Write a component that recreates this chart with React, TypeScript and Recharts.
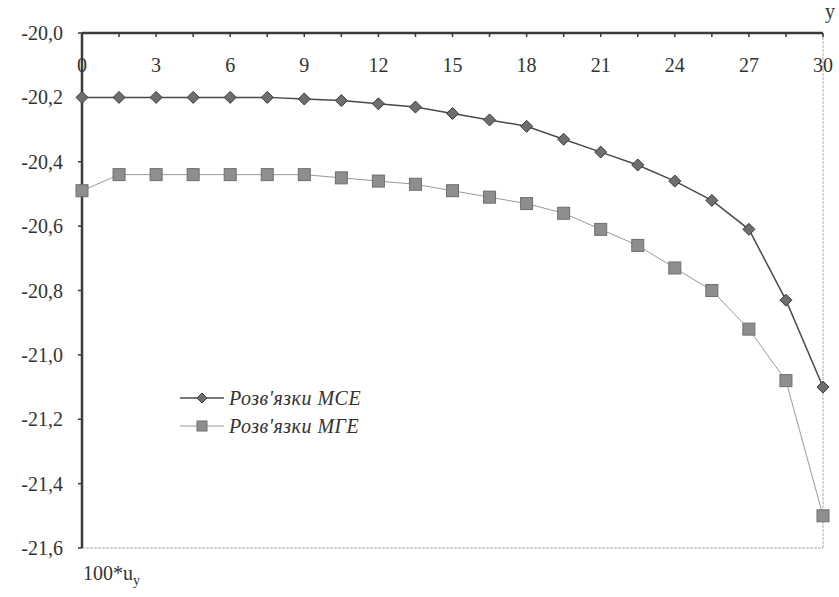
import { Legend, Line, LineChart, ReferenceLine, XAxis, YAxis } from "recharts";

const xValues = [0, 1.5, 3, 4.5, 6, 7.5, 9, 10.5, 12, 13.5, 15, 16.5, 18, 19.5, 21, 22.5, 24, 25.5, 27, 28.5, 30];
const mceValues = [
  -20.2, -20.2, -20.2, -20.2, -20.2, -20.2, -20.205, -20.21, -20.22, -20.23, -20.25, -20.27, -20.29, -20.33,
  -20.37, -20.41, -20.46, -20.52, -20.61, -20.83, -21.1,
];
const mgeValues = [
  -20.49, -20.44, -20.44, -20.44, -20.44, -20.44, -20.44, -20.45, -20.46, -20.47, -20.49, -20.51, -20.53, -20.56,
  -20.61, -20.66, -20.73, -20.8, -20.92, -21.08, -21.5,
];
const xTicks = [0, 1.5, 3, 4.5, 6, 7.5, 9, 10.5, 12, 13.5, 15, 16.5, 18, 19.5, 21, 22.5, 24, 25.5, 27, 28.5, 30];
const yTicks = [-20.0, -20.2, -20.4, -20.6, -20.8, -21.0, -21.2, -21.4, -21.6];
const seriesNames = ["Розв'язки МСЕ", "Розв'язки МГЕ"];

const rows = xValues.map((x, i) => ({ x, mce: mceValues[i], mge: mgeValues[i] }));

const FONT = "Liberation Serif, Times New Roman, Tinos, DejaVu Serif, serif";
const TEXT = "#333";

const Diamond = (p: any) => {
  const { cx, cy, index } = p;
  if (cx == null || cy == null) return <g key={`d-${index}`} />;
  return (
    <polygon
      key={`d-${index}`}
      points={`${cx},${cy - 6} ${cx + 6},${cy} ${cx},${cy + 6} ${cx - 6},${cy}`}
      fill="#6e6e6e"
      stroke="#3a3a3a"
      strokeWidth={1}
    />
  );
};

const Square = (p: any) => {
  const { cx, cy, index } = p;
  if (cx == null || cy == null) return <g key={`s-${index}`} />;
  return <rect key={`s-${index}`} x={cx - 6} y={cy - 6} width={12} height={12} fill="#8e8e8e" stroke="#6e6e6e" strokeWidth={1} />;
};

const TopTick = (p: any) => {
  const v = p.payload.value;
  if (v % 3 !== 0) return <g />;
  return (
    <text x={p.x} y={p.y + 35} textAnchor="middle" style={{ fontFamily: FONT }} fontSize={20} fill={TEXT}>
      {v}
    </text>
  );
};

const LegendBox = () => (
  <div style={{ fontFamily: FONT, fontStyle: "italic", fontSize: 20, color: TEXT, letterSpacing: 0.5 }}>
    {seriesNames.map((name, i) => (
      <div key={name} style={{ display: "flex", alignItems: "center", height: 28 }}>
        <svg width={46} height={16} style={{ marginRight: 3 }}>
          <line x1={0} y1={8} x2={44} y2={8} stroke={i === 0 ? "#4a4a4a" : "#9a9a9a"} strokeWidth={i === 0 ? 1.5 : 1} />
          {i === 0 ? (
            <polygon points="22,3 27,8 22,13 17,8" fill="#6e6e6e" stroke="#3a3a3a" />
          ) : (
            <rect x={17} y={3} width={10} height={10} fill="#8e8e8e" stroke="#6e6e6e" />
          )}
        </svg>
        <span>{name}</span>
      </div>
    ))}
  </div>
);

export default function App() {
  return (
    <div style={{ position: "absolute", left: 0, top: 0, width: 839, height: 597, background: "#fff" }}>
      <LineChart width={839} height={597} data={rows} margin={{ top: 23, right: 16, bottom: 49, left: 12 }}>
        <XAxis
          dataKey="x"
          type="number"
          orientation="top"
          domain={[0, 30]}
          ticks={xTicks}
          height={10}
          tickSize={-4}
          tickMargin={0}
          tick={TopTick}
          axisLine={{ stroke: "#3a3a3a", strokeWidth: 2.5 }}
          tickLine={{ stroke: "#3a3a3a", strokeWidth: 1.5 }}
        />
        <YAxis
          type="number"
          domain={[-21.6, -20.0]}
          ticks={yTicks}
          width={70}
          tickSize={4}
          tickMargin={15}
          tickFormatter={(v: number) => v.toFixed(1).replace(".", ",")}
          tick={{ style: { fontFamily: FONT }, fontSize: 20, fill: TEXT }}
          axisLine={{ stroke: "#3a3a3a", strokeWidth: 2.5 }}
          tickLine={{ stroke: "#3a3a3a", strokeWidth: 1.5 }}
        />
        <ReferenceLine y={-21.6} stroke="#ababab" strokeDasharray="3 1" />
        <ReferenceLine x={30} stroke="#ababab" strokeDasharray="3 1" />
        <Line
          type="linear"
          dataKey="mce"
          stroke="#4a4a4a"
          strokeWidth={1.5}
          dot={Diamond}
          activeDot={false}
          isAnimationActive={false}
        />
        <Line
          type="linear"
          dataKey="mge"
          stroke="#9a9a9a"
          strokeWidth={1}
          dot={Square}
          activeDot={false}
          isAnimationActive={false}
        />
        <Legend
          layout="vertical"
          align="center"
          verticalAlign="middle"
          wrapperStyle={{ left: 180, top: 384, width: "auto" }}
          content={LegendBox}
        />
      </LineChart>
      <div style={{ position: "absolute", left: 825, top: 0, fontFamily: FONT, fontSize: 20, color: TEXT }}>y</div>
      <div style={{ position: "absolute", left: 83, top: 562, fontFamily: FONT, fontSize: 20, color: TEXT }}>
        100*u<sub style={{ fontSize: 14 }}>y</sub>
      </div>
    </div>
  );
}
